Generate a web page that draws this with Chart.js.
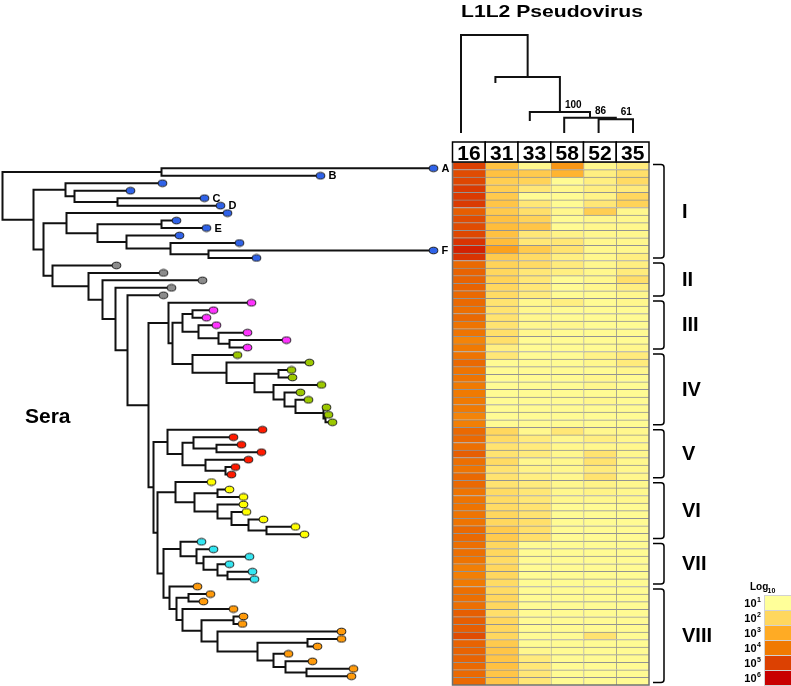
<!DOCTYPE html>
<html>
<head>
<meta charset="utf-8">
<script src="https://cdn.jsdelivr.net/npm/chart.js@4.4.1/dist/chart.umd.min.js"></script>
<style>
  html, body { margin: 0; padding: 0; background: #fff; }
  canvas { display: block; }
</style>
</head>
<body>
<canvas id="chart" width="791" height="686"></canvas>
<script>
// ---- heatmap data (log10 titres) ----
const typeLabels = ['16', '31', '33', '58', '52', '35'];

const hpv16 = [5.0, 4.8, 4.9, 5.1, 5.1, 5.1, 4.5, 4.8, 4.8, 4.9, 5.2, 5.5, 5.2,
               4.3, 4.4, 4.4, 4.4, 4.3,
               4.3, 4.2, 4.3, 4.1, 4.1, 3.8, 4.0,
               4.1, 4.3, 4.1, 4.1, 4.0, 4.0, 4.0, 4.0, 3.8, 3.9,
               4.3, 4.3, 4.2, 4.5, 4.2, 4.1, 4.3,
               4.3, 4.1, 4.1, 4.1, 4.1, 4.1, 4.3, 4.3,
               4.2, 4.2, 4.1, 3.9, 3.9, 4.0,
               4.2, 4.2, 4.2, 4.5, 4.5, 4.5, 4.8, 4.4, 4.4, 4.4, 4.3, 4.3, 4.3];
const hpv31 = [2.5, 2.5, 2.2, 2.2, 2.3, 2.4, 2.3, 2.5, 2.6, 2.5, 2.6, 3.2, 2.3,
               2.1, 2.0, 2.1, 2.0, 1.9,
               1.7, 1.7, 1.7, 1.7, 1.8, 1.8, 1.4,
               1.6, 1.1, 1.1, 1.1, 1.1, 1.1, 1.1, 1.1, 1.1, 1.1,
               2.0, 1.9, 1.7, 1.7, 1.9, 1.7, 1.7,
               1.7, 1.9, 1.9, 1.9, 2.0, 2.0, 2.3, 2.3,
               2.0, 2.0, 1.9, 2.0, 2.0, 1.9,
               1.9, 2.0, 2.0, 1.8, 2.0, 2.0, 2.0, 2.3, 2.4, 2.4, 2.5, 2.4, 2.4];
const hpv33 = [1.2, 2.3, 2.1, 1.6, 1.1, 1.6, 1.8, 2.1, 2.4, 1.6, 1.6, 2.3, 1.9,
               1.9, 1.6, 1.6, 1.6, 1.5,
               1.2, 1.2, 1.2, 1.2, 1.2, 1.1, 1.1,
               1.1, 1.1, 1.1, 1.1, 1.1, 1.1, 1.1, 1.1, 1.1, 1.1,
               1.2, 1.5, 1.5, 1.5, 1.2, 1.3, 1.4,
               1.5, 1.6, 1.6, 1.7, 1.7, 1.8, 1.8, 1.8,
               1.1, 1.1, 1.1, 1.1, 1.1, 1.1,
               1.1, 1.1, 1.1, 1.1, 1.1, 1.1, 1.1, 1.1, 1.2, 1.5, 1.6, 1.6, 1.6];
const hpv58 = [3.4, 2.8, 1.1, 1.2, 1.1, 1.1, 1.2, 1.1, 1.1, 1.3, 1.6, 1.7, 1.4,
               1.5, 1.4, 1.1, 1.1, 1.1,
               1.4, 1.1, 1.1, 1.2, 1.1, 1.1, 1.1,
               1.1, 1.1, 1.1, 1.1, 1.1, 1.1, 1.1, 1.1, 1.1, 1.1,
               1.6, 1.2, 1.2, 1.2, 1.2, 1.2, 1.2,
               1.2, 1.2, 1.2, 1.1, 1.1, 1.1, 1.1, 1.1,
               1.1, 1.1, 1.1, 1.1, 1.1, 1.1,
               1.1, 1.1, 1.1, 1.1, 1.1, 1.1, 1.1, 1.1, 1.1, 1.1, 1.1, 1.1, 1.1];
const hpv52 = [1.2, 1.4, 1.4, 1.4, 1.3, 1.6, 2.2, 1.2, 1.2, 1.2, 1.2, 1.2, 1.2,
               1.2, 1.2, 1.2, 1.2, 1.1,
               1.1, 1.1, 1.1, 1.1, 1.1, 1.1, 1.1,
               1.3, 1.2, 1.1, 1.2, 1.2, 1.1, 1.2, 1.1, 1.1, 1.1,
               1.2, 1.4, 1.2, 1.7, 1.7, 1.5, 1.7,
               1.3, 1.3, 1.2, 1.1, 1.1, 1.1, 1.1, 1.1,
               1.1, 1.1, 1.1, 1.1, 1.1, 1.1,
               1.1, 1.1, 1.1, 1.1, 1.1, 1.1, 1.7, 1.1, 1.1, 1.1, 1.1, 1.1, 1.1];
const hpv35 = [1.5, 1.8, 1.9, 1.5, 2.0, 2.1, 1.2, 1.2, 1.2, 1.2, 1.2, 1.2, 1.4,
               1.4, 1.5, 1.8, 1.4, 1.2,
               1.2, 1.1, 1.1, 1.1, 1.1, 1.1, 1.2,
               1.5, 1.5, 1.2, 1.1, 1.1, 1.1, 1.1, 1.1, 1.1, 1.1,
               1.2, 1.2, 1.2, 1.2, 1.2, 1.2, 1.2,
               1.2, 1.2, 1.2, 1.1, 1.1, 1.1, 1.1, 1.1,
               1.1, 1.1, 1.1, 1.1, 1.1, 1.1,
               1.1, 1.1, 1.1, 1.1, 1.1, 1.1, 1.1, 1.1, 1.1, 1.1, 1.1, 1.1, 1.1];
const heatColumns = [hpv16, hpv31, hpv33, hpv58, hpv52, hpv35];

// sera clusters on the right
const groupNames = ['I', 'II', 'III', 'IV', 'V', 'VI', 'VII', 'VIII'];
const groupSizes = [13, 5, 7, 10, 7, 8, 6, 13];

// colour key
const legendExp = [1, 2, 3, 4, 5, 6];
const legendColors = ['#ffff99', '#ffd75e', '#ffab24', '#f07a02', '#dc4102', '#c80000'];

const cladeColors = {
  b: '#2f62e8', g: '#8c8c8c', m: '#ff33ff', gr: '#9cc800',
  r: '#ff1a00', y: '#ffff00', c: '#33e6f2', o: '#ff9a0a'
};

// ---- type dendrogram (top) ----
const typeLeafHeights = [0, 0.515, 0.124, 0, 0, 0];
const typeTree = {h: 1.0, kids: [0, {h: 0.567, kids: [1, {h: 0.206, support: 100, kids: [2,
                   {h: 0.147, support: 86, kids: [3, {h: 0.131, support: 61, kids: [4, 5]}]}]}]}]};

// ---- sera tree (left): node depth from root, leaves listed top to bottom ----
function N(d, ...kids) { return {d, kids}; }
function L(d, c, name) { return {d, c, name}; }

const cladeAB = N(159, L(431, 'b', 'A'), L(318, 'b', 'B'));
const cladeCD = N(63, L(160, 'b'), N(72, L(128, 'b'), N(115, L(202, 'b', 'C'), L(218, 'b', 'D'))));
const cladeEF = N(64, L(225, 'b'),
  N(95,
    N(159, L(174, 'b'), L(204, 'b', 'E')),
    N(124, L(177, 'b'), N(168, L(237, 'b'), N(206, L(431, 'b', 'F'), L(254, 'b'))))));
const pinkSub = N(180,
  N(190, L(211, 'm'), L(204, 'm')),
  N(196, L(214, 'm'), N(216, L(245, 'm'), N(227, L(284, 'm'), L(245, 'm')))));
const greenSub = N(190, L(235, 'gr'),
  N(224, L(307, 'gr'),
    N(252,
      N(276, L(289, 'gr'), L(290, 'gr')),
      N(271, L(319, 'gr'),
        N(282, L(298, 'gr'),
          N(293, L(306, 'gr'),
            N(321, L(324, 'gr'), N(323, L(326, 'gr'), L(330, 'gr')))))))));
const pinkGreen = N(166, L(249, 'm'), N(170, pinkSub, greenSub));
const redClade = N(165, L(260, 'r'),
  N(180,
    N(191, L(231, 'r'), N(214, L(239, 'r'), L(259, 'r'))),
    N(203, L(246, 'r'), N(223, L(233, 'r'), L(229, 'r')))));
const yellowClade = N(173, L(209, 'y'),
  N(192,
    N(215, L(227, 'y'), L(241, 'y')),
    N(215, L(241, 'y'), N(229, L(244, 'y'), N(246, L(261, 'y'), N(264, L(293, 'y'), L(302, 'y')))))));
const cyanClade = N(178, L(199, 'c'),
  N(194, L(211, 'c'),
    N(201, L(247, 'c'), N(215, L(227, 'c'), N(225, L(250, 'c'), L(252, 'c'))))));
const orangeClade = N(167, L(195, 'o'),
  N(174,
    N(186, L(208, 'o'), L(201, 'o')),
    N(180, L(231, 'o'),
      N(199,
        N(231, L(241, 'o'), L(240, 'o')),
        N(215, L(339, 'o'),
          N(255,
            N(305, L(339, 'o'), L(315, 'o')),
            N(271, L(286, 'o'),
              N(283, L(310, 'o'), N(304, L(351, 'o'), L(349, 'o'))))))))));
const lowerClades = N(50, L(114, 'g'),
  N(86, L(161, 'g'),
    N(100, L(200, 'g'),
      N(113, L(169, 'g'),
        N(125, L(161, 'g'),
          N(146, pinkGreen,
            N(151, redClade,
              N(155, yellowClade,
                N(161, cyanClade, orangeClade)))))))));
const seraTree = N(0, cladeAB, N(31, cladeCD, N(41, cladeEF, lowerClades)));

// ---- build line data for the trees ----
const treeSegs = [];
const treeLeaves = [];
function placeSera(node, parentD) {
  if (node.kids) {
    node.kids.forEach(k => placeSera(k, node.d));
    const first = node.kids[0].y, last = node.kids[node.kids.length - 1].y;
    node.y = (first + last) / 2;
    treeSegs.push({x: node.d, y: first}, {x: node.d, y: last}, {x: node.d, y: null});
  } else {
    node.y = treeLeaves.length;
    treeLeaves.push(node);
  }
  if (parentD !== node.d) {
    treeSegs.push({x: parentD, y: node.y}, {x: node.d, y: node.y}, {x: node.d, y: null});
  }
}
placeSera(seraTree, seraTree.d);

const denSegs = [];
const denNodes = [];
function placeType(node) {
  if (typeof node === 'number') return {x: node, h: typeLeafHeights[node]};
  const kids = node.kids.map(placeType);
  const a = kids[0], b = kids[kids.length - 1];
  denSegs.push({x: a.x, y: node.h}, {x: b.x, y: node.h}, {x: 0, y: null});
  kids.forEach(k => denSegs.push({x: k.x, y: node.h}, {x: k.x, y: k.h}, {x: 0, y: null}));
  const x = (a.x + b.x) / 2;
  denNodes.push({x, h: node.h, support: node.support});
  return {x, h: node.h};
}
placeType(typeTree);

// ---- colours ----
function hexToRgb(h) { return [1, 3, 5].map(i => parseInt(h.substr(i, 2), 16)); }
function heatColor(v) {
  const t = Math.min(Math.max(v, 1), 6) - 1;
  const i = Math.min(Math.floor(t), 4);
  const f = t - i;
  const a = hexToRgb(legendColors[i]), b = hexToRgb(legendColors[i + 1]);
  const c = a.map((x, k) => Math.round(x + (b[k] - x) * f));
  return 'rgb(' + c.join(',') + ')';
}

function dotImage(color) {
  const c = document.createElement('canvas');
  c.width = 11; c.height = 9;
  const g = c.getContext('2d');
  g.beginPath();
  g.ellipse(5.5, 4.5, 4.3, 3.3, 0, 0, Math.PI * 2);
  g.fillStyle = color;
  g.fill();
  g.lineWidth = 1;
  g.strokeStyle = '#1a1a1a';
  g.stroke();
  return c;
}
const dotImages = {};
Object.keys(cladeColors).forEach(k => dotImages[k] = dotImage(cladeColors[k]));

// ---- datasets ----
const heatDatasets = heatColumns.map((vals, j) => ({
  type: 'bar',
  xAxisID: 'xHeat',
  yAxisID: 'yRow',
  order: 3,
  data: vals.map((v, i) => ({x: j + 0.5, y: [i, i + 1]})),
  backgroundColor: vals.map(heatColor),
  borderColor: '#939393',
  borderWidth: {top: 1, left: 1, right: 0, bottom: 0},
  borderSkipped: false,
  barPercentage: 1,
  categoryPercentage: 1,
  grouped: false
}));

const W = 791, H = 686;
function span(p0, unit, size) { return {min: -p0 / unit, max: (size - p0) / unit}; }

const FONT = '"Liberation Sans", Arial, Helvetica, sans-serif';

const decor = {
  id: 'decor',
  afterDatasetsDraw(chart) {
    const ctx = chart.ctx;
    const s = chart.scales;
    ctx.save();

    // heatmap frame
    const hx0 = s.xHeat.getPixelForValue(0), hx1 = s.xHeat.getPixelForValue(6);
    const hy0 = s.yRow.getPixelForValue(0), hy1 = s.yRow.getPixelForValue(hpv16.length);
    ctx.strokeStyle = '#6e6e6e';
    ctx.lineWidth = 1.5;
    ctx.strokeRect(hx0, hy0, hx1 - hx0, hy1 - hy0);

    // column header
    ctx.textAlign = 'center';
    ctx.textBaseline = 'alphabetic';
    typeLabels.forEach((t, j) => {
      const x0 = s.xHeat.getPixelForValue(j), x1 = s.xHeat.getPixelForValue(j + 1);
      ctx.fillStyle = '#fff';
      ctx.fillRect(x0, hy0 - 20, x1 - x0, 20);
      ctx.strokeStyle = '#000';
      ctx.lineWidth = 1.5;
      ctx.strokeRect(x0, hy0 - 20, x1 - x0, 20);
      ctx.fillStyle = '#000';
      ctx.font = 'bold 21px ' + FONT;
      ctx.fillText(t, (x0 + x1) / 2, hy0 - 2.5);
    });

    // title
    ctx.font = 'bold 17px ' + FONT;
    const title = 'L1L2 Pseudovirus';
    const tw = ctx.measureText(title).width;
    ctx.save();
    ctx.translate(552, 17);
    ctx.scale(182 / tw, 1);
    ctx.fillText(title, 0, 0);
    ctx.restore();

    // Sera label
    ctx.textAlign = 'left';
    ctx.font = 'bold 21px ' + FONT;
    ctx.fillText('Sera', 25, 423);

    // leaf letters
    ctx.font = 'bold 11px ' + FONT;
    ctx.textBaseline = 'middle';
    treeLeaves.forEach(l => {
      if (l.name) ctx.fillText(l.name, s.xTree.getPixelForValue(l.d) + 8, s.yTree.getPixelForValue(l.y) + 0.5);
    });

    // bootstrap values on the type dendrogram
    ctx.font = 'bold 10px ' + FONT;
    ctx.textBaseline = 'alphabetic';
    denNodes.forEach(n => {
      if (n.support) ctx.fillText(String(n.support), s.xDen.getPixelForValue(n.x) + 5, s.yDen.getPixelForValue(n.h) - 4);
    });

    // cluster brackets
    let start = 0;
    groupNames.forEach((g, k) => {
      const end = start + groupSizes[k];
      const top = s.yRow.getPixelForValue(start) + 2.5;
      const bot = s.yRow.getPixelForValue(end) - 2.5;
      const bx0 = hx1 + 4, bx1 = hx1 + 15, r = 3;
      ctx.beginPath();
      ctx.moveTo(bx0, top);
      ctx.arcTo(bx1, top, bx1, top + r, r);
      ctx.arcTo(bx1, bot, bx1 - r, bot, r);
      ctx.lineTo(bx0, bot);
      ctx.strokeStyle = '#000';
      ctx.lineWidth = 1.5;
      ctx.stroke();
      ctx.font = 'bold 20px ' + FONT;
      ctx.textBaseline = 'middle';
      ctx.fillStyle = '#000';
      ctx.fillText(g, hx1 + 33, (top + bot) / 2 + 1);
      start = end;
    });

    // colour key
    const ky = 595, kh = 15;
    ctx.textBaseline = 'alphabetic';
    ctx.font = 'bold 10px ' + FONT;
    ctx.textAlign = 'left';
    ctx.fillText('Log', 750, ky - 5);
    ctx.font = 'bold 7px ' + FONT;
    ctx.fillText('10', 767.5, ky - 2.5);
    legendExp.forEach((e, i) => {
      const y = ky + i * kh;
      ctx.fillStyle = legendColors[i];
      ctx.fillRect(764, y, 27, kh);
      ctx.strokeStyle = '#d2d2d2';
      ctx.lineWidth = 1;
      ctx.strokeRect(764.5, y + 0.5, 27, kh);
      ctx.fillStyle = '#000';
      ctx.textAlign = 'right';
      ctx.font = 'bold 11px ' + FONT;
      ctx.fillText('10', 756.5, y + kh / 2 + 4);
      ctx.textAlign = 'left';
      ctx.font = 'bold 7px ' + FONT;
      ctx.fillText(String(e), 757, y + kh / 2 - 1);
    });

    ctx.restore();
  }
};

new Chart(document.getElementById('chart'), {
  type: 'bar',
  data: {
    datasets: [
      {
        type: 'line',
        xAxisID: 'xTree',
        yAxisID: 'yTree',
        order: 0,
        data: treeLeaves.map(l => ({x: l.d, y: l.y})),
        showLine: false,
        pointStyle: treeLeaves.map(l => dotImages[l.c]),
        pointRadius: 4
      },
      {
        type: 'line',
        xAxisID: 'xTree',
        yAxisID: 'yTree',
        order: 1,
        data: treeSegs,
        borderColor: '#111',
        borderWidth: 2,
        borderCapStyle: 'square',
        pointRadius: 0,
        spanGaps: false
      },
      {
        type: 'line',
        xAxisID: 'xDen',
        yAxisID: 'yDen',
        order: 1,
        data: denSegs,
        borderColor: '#111',
        borderWidth: 2,
        borderCapStyle: 'square',
        pointRadius: 0,
        spanGaps: false
      },
      ...heatDatasets
    ]
  },
  options: {
    responsive: false,
    animation: false,
    events: [],
    layout: {padding: 0, autoPadding: false},
    plugins: {legend: {display: false}, tooltip: {enabled: false}},
    scales: {
      xHeat: {axis: 'x', type: 'linear', display: false, offset: false, ticks: {stepSize: 1}, ...span(452.5, 32.75, W)},
      yRow: {axis: 'y', type: 'linear', display: false, reverse: true, ...span(162, 7.58, H)},
      xTree: {axis: 'x', type: 'linear', display: false, offset: false, ...span(2.5, 1, W)},
      yTree: {axis: 'y', type: 'linear', display: false, reverse: true, ...span(168.3, 7.47, H)},
      xDen: {axis: 'x', type: 'linear', display: false, offset: false, ...span(461, 34.4, W)},
      yDen: {axis: 'y', type: 'linear', display: false, min: (132 - H) / 97, max: 132 / 97}
    }
  },
  plugins: [decor]
});
</script>
</body>
</html>
